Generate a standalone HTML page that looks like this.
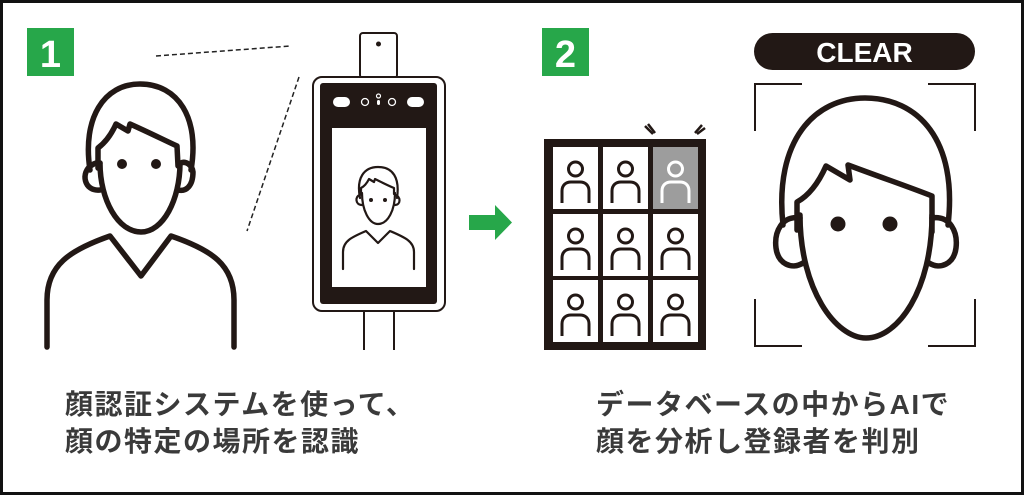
<!DOCTYPE html>
<html><head><meta charset="utf-8"><style>
html,body{margin:0;padding:0;background:#fff;}
svg{display:block}
</style></head><body>
<svg width="1024" height="495" viewBox="0 0 1024 495" xmlns="http://www.w3.org/2000/svg">
<defs>
<g id="pi">
<circle cx="22.5" cy="22" r="7" fill="none" stroke-width="3"/>
<path d="M9,56 L9,44 C9,38 13,35 18,35 L27,35 C32,35 36,38 36,44 L36,56" fill="none" stroke-width="3"/>
</g>
</defs>
<rect x="1.5" y="1.5" width="1021" height="492" fill="#fff" stroke="#111" stroke-width="3"/>
<!-- step 1 -->
<rect x="27" y="28" width="47" height="48" fill="#27a74a"/>
<text x="50.5" y="67" font-family="Liberation Sans Narrow, Liberation Sans, sans-serif" font-weight="bold" font-size="38" fill="#fff" text-anchor="middle">1</text>
<line x1="156" y1="56" x2="290" y2="46" stroke="#222" stroke-width="1.5" stroke-dasharray="5,3"/>
<line x1="299" y1="77" x2="247" y2="231" stroke="#222" stroke-width="1.5" stroke-dasharray="5,3"/>
<!-- left person -->
<g fill="none" stroke="#221815" stroke-width="5.5" stroke-linecap="round" stroke-linejoin="round">
<path d="M90,170 C82,118 104,84 140,84 C178,84 200,118 191,170"/>
<path d="M100,190 C84,192 80,172 92,165 C96,162 100,163 100,163"/>
<path d="M181,163 C185,161 192,164 193,172 C193,186 186,192 178,190"/>
<path d="M100,163 C100,200 118,232 141,232 C163,232 180,200 180,163"/>
<path d="M98,168 L98,148 C106,142 112,133 116,124 L128,131 L130,124 C148,132 164,140 177,146 L178,166"/>
<path d="M47,347 L47,300 C47,265 70,250 110,236 L141,276 L171,236 C212,250 234,265 234,300 L234,347"/>
</g>
<circle cx="122" cy="164" r="5" fill="#221815"/>
<circle cx="156" cy="164" r="5" fill="#221815"/>
<!-- device -->
<rect x="360" y="33" width="37" height="45" rx="3" fill="#fff" stroke="#221815" stroke-width="2"/>
<circle cx="378.5" cy="44" r="2.5" fill="#221815"/>
<line x1="364" y1="311" x2="364" y2="350" stroke="#221815" stroke-width="2"/>
<line x1="394" y1="311" x2="394" y2="350" stroke="#221815" stroke-width="2"/>
<rect x="313" y="77" width="132" height="234" rx="9" fill="#fff" stroke="#221815" stroke-width="2"/>
<rect x="320" y="83" width="117" height="221" rx="3" fill="#221815"/>
<rect x="332" y="128" width="94" height="159" fill="#fff"/>
<rect x="333" y="97" width="17" height="10" rx="5" fill="#fff"/>
<rect x="407" y="97" width="17" height="10" rx="5" fill="#fff"/>
<circle cx="365" cy="102" r="3.5" fill="none" stroke="#fff" stroke-width="1.3"/>
<circle cx="392" cy="102" r="3.5" fill="none" stroke="#fff" stroke-width="1.3"/>
<circle cx="378.5" cy="96" r="2" fill="none" stroke="#fff" stroke-width="1.2"/>
<rect x="377" y="100" width="3" height="5" rx="1.5" fill="#fff"/>
<g fill="none" stroke="#221815" stroke-width="2.2" stroke-linecap="round" stroke-linejoin="round">
<path d="M360,198 C356,178 364,167 378,167 C393,167 400,178 397,198"/>
<path d="M362,205 C355,205 355,196 360,195"/>
<path d="M395,195 C401,196 401,205 395,205"/>
<path d="M362,193 C362,210 369,224 378,224 C388,224 395,210 395,193"/>
<path d="M361,194 L361,188 C365,186 367,183 369,179 L374,182 L375,179 C383,183 389,186 394,188 L394,194"/>
<path d="M343,269 L343,252 C343,241 352,237 366,231 L378,243 L390,231 C404,237 414,241 414,252 L414,269"/>
</g>
<circle cx="371" cy="200" r="2" fill="#221815"/>
<circle cx="385" cy="200" r="2" fill="#221815"/>
<!-- arrow -->
<path d="M469,215 L495,215 L495,205 L512,222.5 L495,240 L495,230 L469,230 Z" fill="#27a74a"/>
<!-- step 2 -->
<rect x="542" y="28" width="47" height="48" fill="#27a74a"/>
<text x="565.5" y="67" font-family="Liberation Sans Narrow, Liberation Sans, sans-serif" font-weight="bold" font-size="38" fill="#fff" text-anchor="middle">2</text>
<!-- grid -->
<rect x="544" y="139" width="162" height="211" fill="#221815"/>
<g fill="#fff">
<rect x="553" y="147" width="45" height="62"/><rect x="603" y="147" width="45" height="62"/><rect x="653" y="147" width="45" height="62" fill="#9d9d9d"/>
<rect x="553" y="214" width="45" height="62"/><rect x="603" y="214" width="45" height="62"/><rect x="653" y="214" width="45" height="62"/>
<rect x="553" y="280" width="45" height="62"/><rect x="603" y="280" width="45" height="62"/><rect x="653" y="280" width="45" height="62"/>
</g>
<g stroke="#221815">
<use href="#pi" x="553" y="147"/><use href="#pi" x="603" y="147"/>
<use href="#pi" x="553" y="214"/><use href="#pi" x="603" y="214"/><use href="#pi" x="653" y="214"/>
<use href="#pi" x="553" y="280"/><use href="#pi" x="603" y="280"/><use href="#pi" x="653" y="280"/>
</g>
<g stroke="#fff"><use href="#pi" x="653" y="147"/></g>
<g stroke="#221815" stroke-width="2.5">
<line x1="645" y1="126" x2="653" y2="134"/><line x1="648" y1="124" x2="655" y2="133"/>
<line x1="705" y1="128" x2="697" y2="134"/><line x1="702" y1="125" x2="695" y2="133"/>
</g>
<!-- CLEAR -->
<rect x="754" y="33" width="221" height="37" rx="18.5" fill="#221815"/>
<text x="864.5" y="62" font-family="Liberation Sans, sans-serif" font-weight="bold" font-size="28" fill="#fff" text-anchor="middle">CLEAR</text>
<!-- brackets -->
<g fill="none" stroke="#221815" stroke-width="2">
<path d="M755,131 L755,84 L802,84"/>
<path d="M928,84 L975,84 L975,131"/>
<path d="M755,299 L755,346 L802,346"/>
<path d="M928,346 L975,346 L975,299"/>
</g>
<!-- big face -->
<g fill="none" stroke="#221815" stroke-width="5.5" stroke-linecap="round" stroke-linejoin="round">
<path d="M783,225 C774,140 815,98 865,98 C918,98 958,140 948,225"/>
<path d="M800,218 C782,215 774,232 776,248 C778,264 792,270 803,263"/>
<path d="M932,218 C950,215 958,232 956,248 C954,264 940,270 929,263"/>
<path d="M800,215 C800,290 836,338 866,338 C898,338 932,290 932,215"/>
<path d="M797,230 L797,202 C808,196 818,184 826,166 L850,180 L848,165 C880,177 912,188 932,196 L932,232"/>
</g>
<circle cx="838" cy="224" r="7.5" fill="#221815"/>
<circle cx="890" cy="224" r="7.5" fill="#221815"/>
<!-- texts -->
<g font-family="Liberation Sans, 'Noto Sans CJK JP', sans-serif" font-weight="bold" font-size="28" fill="#3a3a3a" letter-spacing="1.5">
<text x="65" y="414">顔認証システムを使って、</text>
<text x="65" y="451">顔の特定の場所を認識</text>
<text x="596" y="414">データベースの中からAIで</text>
<text x="596" y="451">顔を分析し登録者を判別</text>
</g>
</svg>
</body></html>
